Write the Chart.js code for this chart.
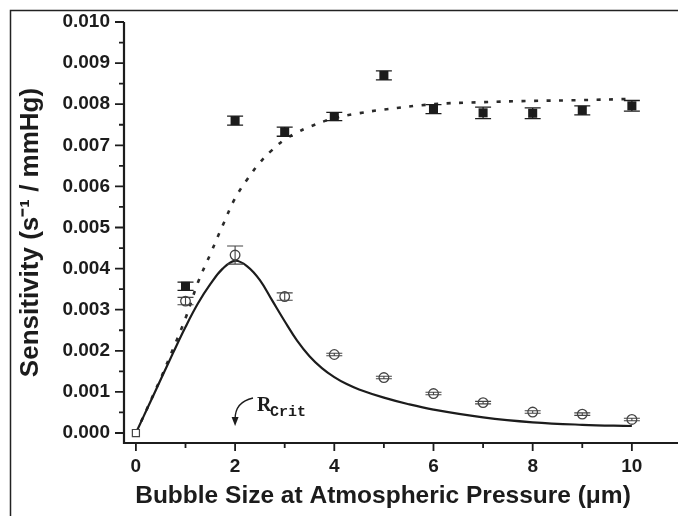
<!DOCTYPE html>
<html><head><meta charset="utf-8">
<script src="https://cdn.jsdelivr.net/npm/chart.js@4.4.1/dist/chart.umd.min.js"></script>
<style>html,body{margin:0;padding:0;background:#fff}#wrap{width:678px;height:516px}</style>
</head><body><div id="wrap"><canvas id="c" width="678" height="516"></canvas></div>
<script>
// ---- data ----
const bubbleSize = [1, 2, 3, 4, 5, 6, 7, 8, 9, 10];
const sensitivityFilled = [0.00357, 0.00760, 0.00733, 0.00770, 0.00870, 0.00788, 0.00779, 0.00778, 0.00785, 0.00796];
const errFilled = [0.00010, 0.00011, 0.00011, 0.00010, 0.00011, 0.00011, 0.00014, 0.00013, 0.00011, 0.00013];
const sensitivityOpen = [0.00321, 0.00433, 0.00332, 0.00191, 0.00135, 0.00096, 0.00074, 0.00051, 0.00046, 0.00033];
const errOpen = [0.00009, 0.00022, 0.00009, 0.00003, 0.00003, 0.00003, 0.00003, 0.00003, 0.00003, 0.00003];
const originX = [0];
const originY = [0];
const fitSolidX = [0, 0.25, 0.5, 0.75, 1.0, 1.25, 1.5, 1.75, 2.0, 2.25, 2.5, 2.75, 3.0, 3.25, 3.5, 3.75, 4.0, 4.25, 4.5, 5.0, 5.5, 6.0, 7.0, 8.0, 9.0, 10.0];
const fitSolidY = [0, 0.00065, 0.00130, 0.00195, 0.00258, 0.00315, 0.00362, 0.00400, 0.00419, 0.00405, 0.00372, 0.00322, 0.00272, 0.00225, 0.00187, 0.00158, 0.00136, 0.00119, 0.00106, 0.00086, 0.00070, 0.00057, 0.00038, 0.00026, 0.00020, 0.00017];
const fitDottedX = [0, 0.5, 0.75, 1.0, 1.25, 1.5, 1.75, 2.0, 2.25, 2.5, 2.75, 3.0, 3.25, 3.5, 4.0, 4.5, 5.0, 6.0, 7.0, 8.0, 9.0, 10.0];
const fitDottedY = [0, 0.00133, 0.00205, 0.00279, 0.00366, 0.00435, 0.00505, 0.00571, 0.00618, 0.00658, 0.00689, 0.00714, 0.00731, 0.00745, 0.00766, 0.00778, 0.00787, 0.00800, 0.00805, 0.00808, 0.00810, 0.00813];
const xTickLabels = ['0', '2', '4', '6', '8', '10'];
const yTickLabels = ['0.000','0.001','0.002','0.003','0.004','0.005','0.006','0.007','0.008','0.009','0.010'];
const xTitle = 'Bubble Size at Atmospheric Pressure (\u03BCm)';
const yTitle = 'Sensitivity (s\u207B\u00B9 / mmHg)';

const pts = (xs, ys) => xs.map((v, i) => ({x: v, y: ys[i]}));
const INK = '#1c1c1c';
const FONT = '"Liberation Sans", Arial, sans-serif';

const decor = {
  id: 'decor',
  afterDatasetsDraw(chart) {
    const {ctx, scales: {x, y}} = chart;
    ctx.save();
    ctx.strokeStyle = INK; ctx.lineWidth = 1.3;
    const cap = 8;
    bubbleSize.forEach((bx, i) => {
      const px = x.getPixelForValue(bx);
      const t = y.getPixelForValue(sensitivityFilled[i] + errFilled[i]);
      const b = y.getPixelForValue(sensitivityFilled[i] - errFilled[i]);
      ctx.beginPath();
      ctx.moveTo(px, t); ctx.lineTo(px, b);
      ctx.moveTo(px - cap, t); ctx.lineTo(px + cap, t);
      ctx.moveTo(px - cap, b); ctx.lineTo(px + cap, b);
      ctx.stroke();
    });
    ctx.strokeStyle = '#444'; ctx.lineWidth = 1.1;
    bubbleSize.forEach((bx, i) => {
      const px = x.getPixelForValue(bx);
      const t = y.getPixelForValue(sensitivityOpen[i] + errOpen[i]);
      const b = y.getPixelForValue(sensitivityOpen[i] - errOpen[i]);
      ctx.beginPath();
      ctx.moveTo(px, t); ctx.lineTo(px, b);
      ctx.moveTo(px - cap, t); ctx.lineTo(px + cap, t);
      ctx.moveTo(px - cap, b); ctx.lineTo(px + cap, b);
      ctx.stroke();
    });
    ctx.restore();
  },
  afterDraw(chart) {
    const {ctx, chartArea: a, scales: {x, y}} = chart;
    ctx.save();
    // outer frame
    ctx.strokeStyle = '#222'; ctx.lineWidth = 1.5;
    ctx.beginPath(); ctx.moveTo(10.5, 516); ctx.lineTo(10.5, 10.5); ctx.lineTo(chart.width, 10.5); ctx.stroke();
    // axes
    ctx.strokeStyle = INK; ctx.lineWidth = 2.2;
    ctx.beginPath();
    ctx.moveTo(a.left, y.getPixelForValue(0.010));
    ctx.lineTo(a.left, a.bottom);
    ctx.lineTo(chart.width, a.bottom);
    ctx.stroke();
    // ticks
    ctx.lineWidth = 1.8;
    ctx.beginPath();
    y.ticks.forEach(t => {
      const p = y.getPixelForValue(t.value);
      const major = Math.round(t.value * 1e4) % 10 === 0;
      ctx.moveTo(a.left, p); ctx.lineTo(a.left - (major ? 9 : 5), p);
    });
    x.ticks.forEach(t => {
      const p = x.getPixelForValue(t.value);
      const major = Math.round(t.value) % 2 === 0;
      ctx.moveTo(p, a.bottom); ctx.lineTo(p, a.bottom + (major ? 8 : 5));
    });
    ctx.stroke();
    // x title
    ctx.fillStyle = INK;
    ctx.font = 'bold 24.5px ' + FONT;
    ctx.textAlign = 'center'; ctx.textBaseline = 'middle';
    ctx.fillText(xTitle, 383, 496);
    // R_crit annotation
    const rx = x.getPixelForValue(2);
    ctx.textAlign = 'left'; ctx.textBaseline = 'alphabetic';
    ctx.font = 'bold 20px "Liberation Serif", serif';
    ctx.fillText('R', 257, 411);
    ctx.font = 'bold 15px "Liberation Mono", monospace';
    ctx.fillText('Crit', 270, 416);
    ctx.lineWidth = 1.3;
    ctx.beginPath();
    ctx.moveTo(253, 398);
    ctx.quadraticCurveTo(rx, 402, rx, 419);
    ctx.stroke();
    ctx.beginPath();
    ctx.moveTo(rx - 3.5, 417); ctx.lineTo(rx + 3.5, 417); ctx.lineTo(rx, 426); ctx.closePath();
    ctx.fill();
    ctx.restore();
  }
};

new Chart(document.getElementById('c'), {
  type: 'scatter',
  data: {
    datasets: [
      { label: 'origin', data: pts(originX, originY), pointStyle: 'rect', pointRadius: 5,
        backgroundColor: '#fff', borderColor: '#444', borderWidth: 1.2, showLine: false },
      { label: 'filled', data: pts(bubbleSize, sensitivityFilled), pointStyle: 'rect', pointRadius: 6.4,
        backgroundColor: INK, borderColor: INK, borderWidth: 0, showLine: false },
      { label: 'open', data: pts(bubbleSize, sensitivityOpen), pointStyle: 'circle', pointRadius: 4.8,
        backgroundColor: '#fff', borderColor: '#444', borderWidth: 1.3, showLine: false },
      { label: 'fit solid', data: pts(fitSolidX, fitSolidY), showLine: true, pointRadius: 0,
        borderColor: INK, borderWidth: 2.2, tension: 0.4, fill: false },
      { label: 'fit dotted', data: pts(fitDottedX, fitDottedY), showLine: true, pointRadius: 0,
        borderColor: '#2a2a2a', borderWidth: 2.6, borderDash: [4, 8.5], tension: 0.4, fill: false }
    ]
  },
  options: {
    responsive: false, animation: false, devicePixelRatio: 1,
    layout: { autoPadding: false, padding: { top: 22, left: 0, right: 0, bottom: 0 } },
    plugins: { legend: { display: false }, tooltip: { enabled: false } },
    scales: {
      x: {
        type: 'linear', min: -0.24, max: 10.93,
        afterFit: s => { s.height = 73; s.paddingLeft = 0; s.paddingRight = 0; },
        grid: { display: false, drawTicks: false }, border: { display: false },
        ticks: { stepSize: 1, includeBounds: false, autoSkip: false, maxRotation: 0, padding: 12,
          color: INK, font: { family: FONT, weight: 'bold', size: 19 },
          callback: v => { const i = xTickLabels.indexOf(String(Math.round(v))); return (Math.abs(v - Math.round(v)) < 1e-6 && i >= 0) ? xTickLabels[i] : ''; } },
        title: { display: false }
      },
      y: {
        type: 'linear', min: -0.000243, max: 0.010,
        afterFit: s => { s.width = 124; s.paddingTop = 0; s.paddingBottom = 0; },
        grid: { display: false, drawTicks: false }, border: { display: false },
        ticks: { stepSize: 0.0005, includeBounds: false, autoSkip: false, padding: 14,
          color: INK, font: { family: FONT, weight: 'bold', size: 19 },
          callback: v => { const k = Math.round(v * 1e4); return k % 10 === 0 ? yTickLabels[k / 10] : ''; } },
        title: { display: true, text: yTitle, color: INK, padding: 15,
          font: { family: FONT, weight: 'bold', size: 26 } }
      }
    }
  },
  plugins: [decor]
});
</script></body></html>
